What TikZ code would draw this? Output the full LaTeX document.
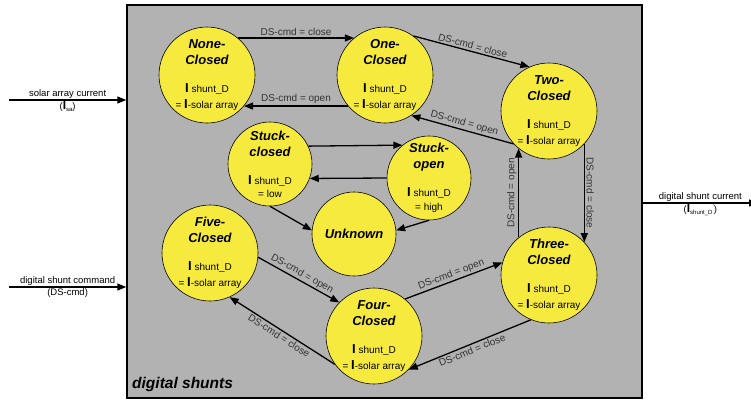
\documentclass[tikz,border=0pt]{standalone}
\usepackage{fontspec}
\setmainfont{Liberation Sans}
\usetikzlibrary{arrows.meta}
\definecolor{shuntyellow}{RGB}{246,234,62}
\definecolor{boxgray}{RGB}{178,178,178}
\newcommand{\ttl}[1]{{\fontsize{13}{16}\selectfont\bfseries\itshape #1}}
\newcommand{\bigI}{{\fontsize{13}{13}\selectfont\bfseries I}}
\tikzset{
>={Triangle[length=9pt,width=7pt]},
  shunt/.style={
    circle,
    draw=black, line width=0.6pt,
    fill=shuntyellow,
    minimum size=96pt,
    inner sep=0pt},
  stuck/.style={shunt, minimum size=84pt},
  shunttext/.style={
    align=center,
    inner sep=0pt,
    font=\fontsize{10}{16}\selectfont},
  line/.style={draw, line width=1.3pt, ->},
  cmd/.style={font=\fontsize{10}{11}\selectfont, text=black!80, inner sep=1.5pt},
  io/.style={font=\fontsize{9.5}{11}\selectfont, inner sep=1pt},
}

\begin{document}
\begin{tikzpicture}[x=1pt, y=-1pt]
     \useasboundingbox (0,0) rectangle (751,400);
     % outer block with the shunt states
     \node[draw=black, line width=1.5pt, fill=boxgray, minimum width=515pt, minimum height=393pt, inner sep=0pt] (Shunts) at (384.5,201.5) {};
     \node[font=\fontsize{15.5}{16}\selectfont\bfseries\itshape, anchor=base west, inner sep=0pt] (ShuntsTitle) at (132,388) {digital shunts};

     \node[shunt] (NoneClosed)  at (207,75)  {};
     \node[shunt] (OneClosed)   at (385,75)  {};
     \node[shunt] (TwoClosed)   at (549,111) {};
     \node[shunt] (ThreeClosed) at (549,275) {};
     \node[shunt] (FourClosed)  at (374,336) {};
     \node[shunt] (FiveClosed)  at (210,253) {};
     \node[stuck] (StuckClosed) at (270,164) {};
     \node[stuck] (StuckOpen)   at (429,178) {};
     \node[stuck] (Unknown)     at (354,234) {};

     \node[shunttext] (NoneClosedText)  at (NoneClosed)  {\ttl{None-}\\\ttl{Closed}\\[12pt]\bigI\ shunt\_D\\= \bigI-solar array};
     \node[shunttext] (OneClosedText)   at (OneClosed)   {\ttl{One-}\\\ttl{Closed}\\[12pt]\bigI\ shunt\_D\\= \bigI-solar array};
     \node[shunttext] (TwoClosedText)   at (TwoClosed)   {\ttl{Two-}\\\ttl{Closed}\\[12pt]\bigI\ shunt\_D\\= \bigI-solar array};
     \node[shunttext] (ThreeClosedText) at (ThreeClosed) {\ttl{Three-}\\\ttl{Closed}\\[12pt]\bigI\ shunt\_D\\= \bigI-solar array};
     \node[shunttext] (FourClosedText)  at (FourClosed)  {\ttl{Four-}\\\ttl{Closed}\\[12pt]\bigI\ shunt\_D\\= \bigI-solar array};
     \node[shunttext] (FiveClosedText)  at (FiveClosed)  {\ttl{Five-}\\\ttl{Closed}\\[12pt]\bigI\ shunt\_D\\= \bigI-solar array};
     \node[shunttext] (StuckClosedText) at (StuckClosed) {\ttl{Stuck-}\\\ttl{closed}\\[12pt]\bigI\ shunt\_D\\[-3pt]= low};
     \node[shunttext] (StuckOpenText)   at (StuckOpen)   {\ttl{Stuck-}\\\ttl{open}\\[12pt]\bigI\ shunt\_D\\[-2pt]= high};
     \node[shunttext] (UnknownText)     at (Unknown)     {\ttl{Unknown}};

     % transitions on DS-cmd
     \path[line] (NoneClosed.50) -- node[cmd, above] {DS-cmd = close} (OneClosed.130);
     \path[line] (OneClosed.-140) -- node[cmd, above] {DS-cmd = open} (NoneClosed.-40);
     \path[line] (OneClosed.54) -- node[cmd, sloped, above] {DS-cmd = close} (TwoClosed.114);
     \path[line] (TwoClosed.223) -- node[cmd, sloped, above] {DS-cmd = open} (OneClosed.-57);
     \path[line] (TwoClosed.-43) -- node[cmd, rotate=-90, anchor=south] {DS-cmd = close} (ThreeClosed.43);
     \path[line] (ThreeClosed.129) -- node[cmd, rotate=90, anchor=south] {DS-cmd = open} (TwoClosed.-129);
     \path[line] (FourClosed.50) -- node[cmd, sloped, above] {DS-cmd = open} (ThreeClosed.165);
     \path[line] (ThreeClosed.248) -- node[cmd, sloped, below] {DS-cmd = close} (FourClosed.-44);
     \path[line] (FiveClosed.-5) -- node[cmd, sloped, above] {DS-cmd = open} (FourClosed.136);
     \path[line] (FourClosed.216) -- node[cmd, sloped, below] {DS-cmd = close} (FiveClosed.-66);

     % stuck states
     \path[line] (StuckClosed.25) -- (StuckOpen.129);
     \path[line] (StuckOpen.180) -- (StuckClosed.-20);
     \path[line] (StuckClosed.-90) -- (Unknown.175);
     \path[line] (StuckOpen.-90) -- (Unknown.5);

     % inputs and output
     \coordinate (SaIn)     at (9,100);
     \coordinate (CmdIn)    at (9,287);
     \coordinate (ShuntOut) at (758,203);
     \path[line] (SaIn) -- node[io, above] {solar array current}
       node[io, below] {({\fontsize{12}{12}\selectfont\bfseries I}\raisebox{-2pt}{\fontsize{6}{6}\selectfont sa})} (SaIn -| Shunts.west);
     \path[line] (CmdIn) -- node[io, above, inner sep=0.5pt] {digital shunt command}
       node[io, below, inner sep=0.5pt] {(DS-cmd)} (CmdIn -| Shunts.west);
     \path[line] (Shunts.east |- ShuntOut) -- node[io, above] {digital shunt current}
       node[io, below] {({\fontsize{12}{12}\selectfont\bfseries I}\raisebox{-2pt}{\fontsize{6}{6}\selectfont shunt\_D}\raisebox{4pt}{\fontsize{6}{6}\selectfont '})} (ShuntOut);
\end{tikzpicture}
\end{document}
